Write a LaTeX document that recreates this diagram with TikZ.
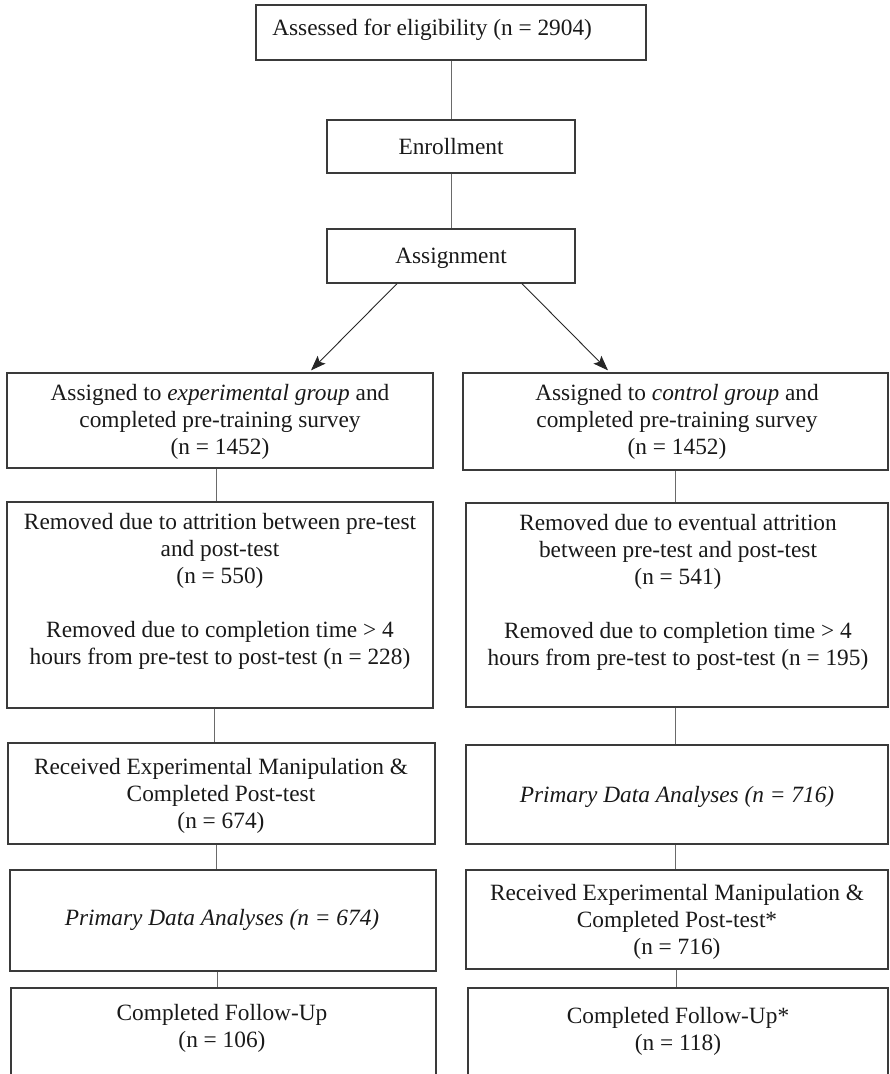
\documentclass[tikz,border=0pt]{standalone}
\usepackage{fontspec}
\setmainfont{Liberation Serif}
\usetikzlibrary{arrows.meta,calc}
\definecolor{boxline}{HTML}{3A3A3A}
\definecolor{conline}{HTML}{6A6A6A}
\def\px{*0.75pt}
\begin{document}
\begin{tikzpicture}[x=0.75pt,y=-0.75pt,
  box/.style={draw=boxline,line width=1.3\px,inner sep=0pt,fill=none},
  txt/.style={inner sep=0pt,align=center,text=black!90,font=\fontsize{17.5pt}{20.25pt}\selectfont},
  con/.style={draw=conline,line width=0.9\px},
  arr/.style={draw=black!85,line width=0.9\px,-{Stealth[length=15\px,width=11\px,inset=3\px]}}]
\useasboundingbox (0,0) rectangle (889,1074);
% boxes
\node[box,minimum width=390\px,minimum height=55\px] (top) at (451,32.5) {};
\node[box,minimum width=248\px,minimum height=53\px] (enr) at (451,146.5) {};
\node[box,minimum width=248\px,minimum height=54\px] (asg) at (451,256) {};
\node[box,minimum width=426\px,minimum height=95\px] (L1) at (220,420.5) {};
\node[box,minimum width=425\px,minimum height=97\px] (R1) at (675.5,421.5) {};
\node[box,minimum width=426\px,minimum height=206\px] (L2) at (220,605) {};
\node[box,minimum width=422\px,minimum height=204\px] (R2) at (677,605) {};
\node[box,minimum width=427\px,minimum height=101\px] (L3) at (221.5,793.5) {};
\node[box,minimum width=422\px,minimum height=99\px] (R3) at (677,794.5) {};
\node[box,minimum width=426\px,minimum height=101\px] (L4) at (223,920.5) {};
\node[box,minimum width=422\px,minimum height=99\px] (R4) at (677,919.5) {};
\node[box,minimum width=425\px,minimum height=110\px] (L5) at (223.5,1043) {};
\node[box,minimum width=420\px,minimum height=110\px] (R5) at (678,1043) {};
% texts
\node[txt,anchor=west] (topt) at (272,30) {Assessed for eligibility (n = 2904)};
\node[txt] (enrt) at (451,147) {Enrollment};
\node[txt] (asgt) at (451,258) {Assignment};
\node[txt] (L1t) at (220,422) {Assigned to \textit{experimental group} and\\completed pre-training survey\\(n = 1452)};
\node[txt] (R1t) at (677,422) {Assigned to \textit{control group} and\\completed pre-training survey\\(n = 1452)};
\node[txt] (L2t) at (220,591.5) {Removed due to attrition between pre-test\\and post-test\\(n = 550)\\[20.25pt]Removed due to completion time {>} 4\\hours from pre-test to post-test (n = 228)};
\node[txt] (R2t) at (678,592) {Removed due to eventual attrition\\between pre-test and post-test\\(n = 541)\\[20.25pt]Removed due to completion time {>} 4\\hours from pre-test to post-test (n = 195)};
\node[txt] (L3t) at (221,795.5) {Received Experimental Manipulation \&\\Completed Post-test\\(n = 674)};
\node[txt] (R3t) at (677,797) {\textit{Primary Data Analyses (n = 716)}};
\node[txt] (L4t) at (222,920) {\textit{Primary Data Analyses (n = 674)}};
\node[txt] (R4t) at (677,922) {Received Experimental Manipulation \&\\Completed Post-test*\\(n = 716)};
\node[txt] (L5t) at (222,1028) {Completed Follow-Up\\(n = 106)};
\node[txt] (R5t) at (678,1031) {Completed Follow-Up*\\(n = 118)};
% connectors
\draw[con] (top.south) -- (enr.north);
\draw[con] (enr.south) -- (asg.north);
\draw[arr] ([xshift=-54\px]asg.south) -- ([xshift=91\px,yshift=2\px]L1.north);
\draw[arr] ([xshift=71\px]asg.south) -- ([xshift=-67.5\px,yshift=2\px]R1.north);
\draw[con] ([xshift=-4\px]L1.south) -- ([xshift=-4\px]L1.south |- L2.north);
\draw[con] (R1.south) -- (R1.south |- R2.north);
\draw[con] ([xshift=-6\px]L2.south) -- ([xshift=-6\px]L2.south |- L3.north);
\draw[con] ([xshift=-1.5\px]R2.south) -- ([xshift=-1.5\px]R2.south |- R3.north);
\draw[con] ([xshift=-5\px]L3.south) -- ([xshift=-5\px]L3.south |- L4.north);
\draw[con] ([xshift=-2\px]R3.south) -- ([xshift=-2\px]R3.south |- R4.north);
\draw[con] ([xshift=-6\px]L4.south) -- ([xshift=-6\px]L4.south |- L5.north);
\draw[con] ([xshift=-1\px]R4.south) -- ([xshift=-1\px]R4.south |- R5.north);
\end{tikzpicture}
\end{document}
